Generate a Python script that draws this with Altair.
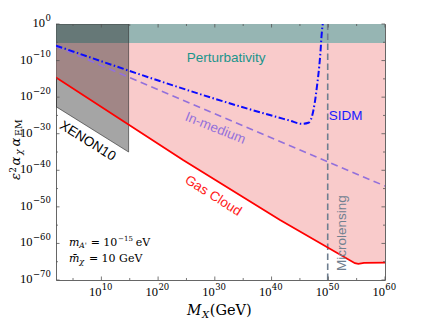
import altair as alt
import pandas as pd

# ---------------- data: log10 values ----------------
# x = log10(M_X / GeV), y = log10(eps^2 alpha_chi alpha_EM)
gas_x = [2, 24.4, 41.5, 54.7, 55.3, 56.3, 60]
gas_y = [-14.6, -37.2, -53.6, -65.4, -65.6, -65.3, -65.25]
sidm_x = [2, 39.7, 43.2, 45.3, 46.5, 47.1, 47.6, 48.0, 48.4, 48.65, 48.8, 49.0, 49.1]
sidm_y = [-5.9, -24.9, -26.4, -27.3, -27.0, -25.4, -21.7, -17.1, -11.7, -7.1, -3.5, -0.3, 1.0]
inmed_x = [2, 60]
inmed_y = [-6.1, -44.3]
xenon_x = [2, 14.8]
xenon_y = [-22.6, -35.0]
pert_x = [2, 60]
pert_y = [-5.2, 0]
micro_x = [49.9]
x_major = [10, 20, 30, 40, 50, 60]
x_minor = [5, 15, 25, 35, 45, 55]
y_major = [0, -10, -20, -30, -40, -50, -60, -70]
y_minor = [-5, -15, -25, -35, -45, -55, -65]
x_tick_exp = ["10", "20", "30", "40", "50", "60"]
y_tick_exp = ["0", "−10", "−20", "−30", "−40", "−50", "−60", "−70"]

XD = [2, 60]
YD = [-70, 0]

xsc = alt.Scale(domain=XD, nice=False, zero=False)
ysc = alt.Scale(domain=YD, nice=False, zero=False)


def X(f):
    return alt.X(f, type="quantitative", scale=xsc, axis=None)


def Y(f):
    return alt.Y(f, type="quantitative", scale=ysc, axis=None)


def txt(xs, ys, texts, **props):
    df = pd.DataFrame({"x": xs, "y": ys, "t": texts})
    return alt.Chart(df).mark_text(**props).encode(x=X("x"), y=Y("y"), text=alt.Text("t:N"))


layers = []

# Gas-cloud excluded region (pink)
gas_df = pd.DataFrame({"x": gas_x, "y": gas_y, "top": [YD[1]] * len(gas_x)})
layers.append(alt.Chart(gas_df).mark_area(color="#f9cbcb", clip=True).encode(
    x=X("x"), y=Y("y"), y2="top"))

# Perturbativity band
pert_df = pd.DataFrame({"x1": [pert_x[0]], "x2": [pert_x[1]], "y1": [pert_y[0]], "y2": [pert_y[1]]})
layers.append(alt.Chart(pert_df).mark_rect(color="#96b5b3").encode(
    x=X("x1"), x2="x2", y=Y("y1"), y2="y2"))

# XENON10 region
xen_df = pd.DataFrame({"x": xenon_x, "y": xenon_y, "top": [YD[1]] * len(xenon_x)})
layers.append(alt.Chart(xen_df).mark_area(color="#1e1e1e", fillOpacity=0.4, stroke="#333333",
                                          strokeWidth=0.8, strokeOpacity=0.8, clip=True).encode(
    x=X("x"), y=Y("y"), y2="top"))

# Microlensing
mic_df = pd.DataFrame({"x": micro_x, "y1": [YD[0]], "y2": [YD[1]]})
layers.append(alt.Chart(mic_df).mark_rule(color="#6f7f90", strokeDash=[6.5, 3.5], strokeWidth=1.6).encode(
    x=X("x"), y=Y("y1"), y2="y2"))

# In-medium
layers.append(alt.Chart(pd.DataFrame({"x": inmed_x, "y": inmed_y})).mark_line(
    color="#9370db", strokeDash=[7, 4.5], strokeWidth=1.6, clip=True).encode(x=X("x"), y=Y("y")))

# SIDM
layers.append(alt.Chart(pd.DataFrame({"x": sidm_x, "y": sidm_y})).mark_line(
    color="#0a0aff", strokeDash=[6.5, 2.5, 1.5, 2.5], strokeWidth=2, interpolate="monotone",
    clip=True).encode(x=X("x"), y=Y("y")))

# Gas cloud line
layers.append(alt.Chart(pd.DataFrame({"x": gas_x, "y": gas_y})).mark_line(
    color="#ff0000", strokeWidth=1.8, clip=True).encode(x=X("x"), y=Y("y")))

# inward ticks on all four sides
rows = []
for v in x_major:
    rows += [(v, v, YD[0], YD[0] + 0.96), (v, v, YD[1], YD[1] - 0.96)]
for v in x_minor:
    rows += [(v, v, YD[0], YD[0] + 0.55), (v, v, YD[1], YD[1] - 0.55)]
for v in y_major:
    rows += [(XD[0], XD[0] + 0.62, v, v), (XD[1], XD[1] - 0.62, v, v)]
for v in y_minor:
    rows += [(XD[0], XD[0] + 0.35, v, v), (XD[1], XD[1] - 0.35, v, v)]
tick_df = pd.DataFrame(rows, columns=["x1", "x2", "y1", "y2"])
layers.append(alt.Chart(tick_df).mark_rule(color="#555555", strokeWidth=0.8).encode(
    x=X("x1"), x2="x2", y=Y("y1"), y2="y2"))

# tick labels
SERIF = "DejaVu Serif"
TSERIF = "Liberation Serif"
layers.append(txt(x_major, [YD[0]] * 6, ["10"] * 6, font=TSERIF, fontSize=12.5, align="right",
                  baseline="alphabetic", dy=15.5, color="black"))
layers.append(txt(x_major, [YD[0]] * 6, x_tick_exp, font=SERIF, fontSize=8.5, align="left",
                  baseline="alphabetic", dy=10, dx=0.3, color="black"))
layers.append(txt([XD[0]], [y_major[0]], ["10"], font=TSERIF, fontSize=12.5, align="right",
                  baseline="alphabetic", dx=-10.9, dy=3, color="black"))
layers.append(txt([XD[0]], [y_major[0]], [y_tick_exp[0]], font=SERIF, fontSize=8.5, align="left",
                  baseline="alphabetic", dx=-10.6, dy=-3.5, color="black"))
layers.append(txt([XD[0]] * 7, y_major[1:], ["10"] * 7, font=TSERIF, fontSize=12.5, align="right",
                  baseline="alphabetic", dx=-23.4, dy=3, color="black"))
layers.append(txt([XD[0]] * 7, y_major[1:], y_tick_exp[1:], font=SERIF, fontSize=8.5, align="left",
                  baseline="alphabetic", dx=-23.1, dy=-3.5, color="black"))

# x-axis title  M_X (GeV)
layers.append(txt([25.1], [YD[0]], ["M"], font=SERIF, fontSize=14, fontStyle="italic",
                  align="left", baseline="alphabetic", dy=35, color="black"))
layers.append(txt([27.75], [YD[0]], ["X"], font=SERIF, fontSize=10, fontStyle="italic",
                  align="left", baseline="alphabetic", dy=37.5, color="black"))
layers.append(txt([29.1], [YD[0]], ["(GeV)"], font=SERIF, fontSize=14.5,
                  align="left", baseline="alphabetic", dy=35, color="black"))

# y-axis title  eps^2 alpha_chi alpha_EM (rotated)
ytitle = [("ε", -4.33, -42.66, 13, "italic"), ("2", -5.03, -40.6, 8.5, "normal"),
          ("α", -4.33, -38.7, 13, "italic"), ("χ", -3.98, -35.8, 9.5, "italic"),
          ("α", -4.33, -33.5, 13, "italic"), ("EM", -4.05, -30.6, 9.5, "normal")]
for s, xx, yy, fs, st in ytitle:
    layers.append(txt([xx], [yy], [s], font=SERIF, fontSize=fs, fontStyle=st, angle=270,
                      align="left", baseline="alphabetic", color="black"))

# parameter annotation (lower left)
ann = [("m", 4.28, -60.6, 11, "italic", 0), ("A'", 6.1, -60.6, 7.5, "italic", 2.5),
       ("= 10", 8.11, -60.6, 11, "normal", 0), ("−15", 12.95, -60.6, 7, "normal", -4.5),
       ("eV", 16.05, -60.6, 11, "normal", 0),
       ("m̄", 4.28, -65.0, 11, "italic", 0), ("χ", 6.1, -65.0, 8, "italic", 2.5),
       ("= 10 GeV", 7.8, -65.0, 11, "normal", 0)]
for s, xx, yy, fs, st, ddy in ann:
    layers.append(txt([xx], [yy], [s], font=SERIF, fontSize=fs, fontStyle=st, dy=ddy,
                      align="left", baseline="alphabetic", color="black"))

# region labels
SANS = "Liberation Sans"
labels = [("Perturbativity", 32.0, -9.25, "#1b958b", 0),
          ("SIDM", 53.07, -25.1, "#1a1aff", 0),
          ("In-medium", 30.08, -28.52, "#9370db", 22),
          ("Gas Cloud", 29.7, -46.98, "#ff1a1a", 32),
          ("XENON10", 7.58, -32.0, "#000000", 32),
          ("Microlensing", 52.44, -57.2, "#708090", 270)]
for s, xx, yy, col, ang in labels:
    layers.append(txt([xx], [yy], [s], font=SANS, fontSize=13.5, color=col, angle=ang,
                      align="center", baseline="middle"))

chart = alt.layer(*layers).properties(
    width=329, height=256,
    padding={"left": 48, "top": 16, "right": 20, "bottom": 40},
    autosize=alt.AutoSizeParams(type="none"),
    background="white",
).configure_view(stroke="#666666", strokeWidth=1)

chart.save("out.html", embed_options={"renderer": "svg", "actions": False})
